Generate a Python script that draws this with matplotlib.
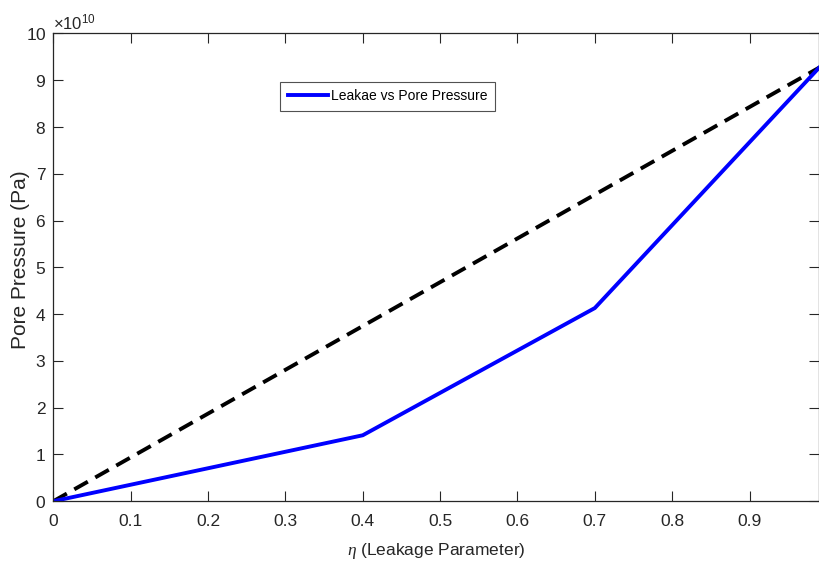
import numpy as np
import matplotlib
matplotlib.use("Agg")
import matplotlib.pyplot as plt
from matplotlib.ticker import ScalarFormatter

plt.rcParams['font.family'] = ['Liberation Sans', 'DejaVu Sans']
plt.rcParams['mathtext.fontset'] = 'custom'
plt.rcParams['mathtext.rm'] = 'Liberation Sans'
plt.rcParams['mathtext.it'] = 'Liberation Serif:italic'

# leakage parameter vs pore pressure
eta = [0.0, 0.4, 0.7, 0.99]
pore_pressure = [0.0, 1.41e10, 4.13e10, 9.27e10]
ref_eta = [0.0, 0.99]
ref_pressure = [0.0, 9.27e10]


class FixedOrder(ScalarFormatter):
    def _set_order_of_magnitude(self):
        self.orderOfMagnitude = 10


fig = plt.figure(figsize=(8.2, 5.67), dpi=100)
ax = fig.add_axes([0.065, 0.116, 0.934, 0.825])

ax.plot(ref_eta, ref_pressure, color='black', lw=2.8, dashes=(4, 2.2))
ax.plot(eta, pore_pressure, color='#0000ff', lw=2.8, label='Leakae vs Pore Pressure')

ax.set_xlim(0, 0.99)
ax.set_ylim(0, 1e11)
ax.set_xticks(np.arange(0, 1.0, 0.1))
ax.set_xticklabels(['0', '0.1', '0.2', '0.3', '0.4', '0.5', '0.6', '0.7', '0.8', '0.9'])
ax.set_yticks(np.arange(0, 11) * 1e10)

fmt = FixedOrder(useMathText=True)
ax.yaxis.set_major_formatter(fmt)
ax.yaxis.get_offset_text().set_fontsize(12)
ax.yaxis.get_offset_text().set_color('#262626')

ax.tick_params(direction='in', length=7, width=0.8, top=True, right=True,
               labelsize=12.5, colors='#262626')
ax.tick_params(axis='x', pad=9)
ax.tick_params(axis='y', pad=5)
for s in ax.spines.values():
    s.set_color('#262626')
    s.set_linewidth(0.9)

ax.set_xlabel(r'$\eta$ (Leakage Parameter)', fontsize=12.5, color='#262626', labelpad=9)
ax.set_ylabel('Pore Pressure (Pa)', fontsize=15, color='#262626')
ax.yaxis.set_label_coords(-0.031, 0.517)

leg = ax.legend(loc='upper left', bbox_to_anchor=(0.296, 0.897), fontsize=10,
                frameon=True, fancybox=False, handlelength=2.9, borderpad=0.55,
                handletextpad=0.2, borderaxespad=0)
leg.get_frame().set_edgecolor('#262626')
leg.get_frame().set_linewidth(0.8)

plt.savefig('out.png', dpi=100)
